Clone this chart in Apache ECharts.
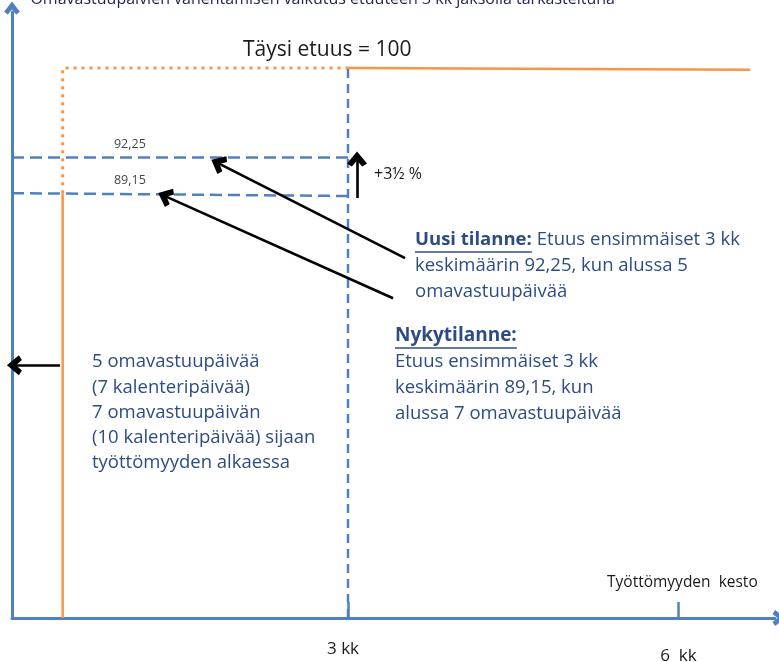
<!DOCTYPE html>
<html><head><meta charset="utf-8">
<script src="https://cdn.jsdelivr.net/npm/echarts@6/dist/echarts.min.js"></script>
<style>html,body{margin:0;padding:0;background:#fff}#c{width:779px;height:662px}</style>
</head><body><div id="c"></div>
<script>
// ---- data ----
const xTicks = [3, 6];
const xTickLabels = ['3 kk', '6  kk'];
const fullBenefit = 100;
const newAvg = 92.25;
const oldAvg = 89.15;
const waitEnd = 0.41;      // end of waiting period (months, schematic)
const periodEnd = 3;       // 3 kk
const lineEnd = 6.65;
const avgLabels = ['92,25', '89,15'];
const xMin = -0.05, xMax = 6.876, yMin = 52.3, yMax = 104.86;

const FONT = '"Open Sans"';
const TXT = '#2d4c86';
const BLUE = '#4f81bd';
const ORANGE = '#f79646';
const CHEVRON = 'path://M5,0 L10,6.5 L7.6,8.2 L5,5 L2.4,8.2 L0,6.5 Z';

function tw(text, font) {
  const c = document.createElement('canvas').getContext('2d');
  c.font = font; return c.measureText(text).width;
}

const chart = echarts.init(document.getElementById('c'), null, {renderer: 'canvas'});

const arrowLine = (from, to) => ({
  type: 'line', data: [], silent: true,
  markLine: {
    silent: true, symbol: ['none', CHEVRON], symbolSize: [20, 15],
    label: {show: false},
    lineStyle: {color: '#000', width: 2.6, type: 'solid'},
    itemStyle: {color: '#000'},
    data: [[{coord: from}, {coord: to}]]
  }
});

const option = {
  animation: false,
  grid: {left: 12, right: 4, top: 12, bottom: 44, outerBoundsMode: 'none', containLabel: false},
  xAxis: {
    type: 'value', min: xMin, max: xMax,
    axisLine: {onZero: false, symbol: ['none', CHEVRON], symbolSize: [20, 13], symbolOffset: [0, 4],
      lineStyle: {color: BLUE, width: 3}},
    axisTick: {show: true, inside: true, length: 16, customValues: xTicks, lineStyle: {color: BLUE, width: 2.5}},
    axisLabel: {customValues: xTicks, margin: 23, fontFamily: FONT, fontSize: 17, color: '#1a1a1a',
      formatter: v => { const i = xTicks.indexOf(v); return i === 0 ? '{a|' + xTickLabels[i] + '}' : '{b|' + xTickLabels[i] + '}'; },
      rich: {a: {fontFamily: FONT, fontSize: 17, color: '#1a1a1a', padding: [0, 10, 0, 0]},
             b: {fontFamily: FONT, fontSize: 17, color: '#1a1a1a', padding: [7, 0, 0, 0]}}},
    splitLine: {show: false}
  },
  yAxis: {
    type: 'value', min: yMin, max: yMax,
    axisLine: {show: true, onZero: false, symbol: ['none', CHEVRON], symbolSize: [20, 13], symbolOffset: [0, 4],
      lineStyle: {color: BLUE, width: 3}},
    axisTick: {show: false}, axisLabel: {show: false}, splitLine: {show: false}
  },
  series: [
    {type: 'line', symbol: 'none', lineStyle: {color: ORANGE, width: 2.5},
     data: [[waitEnd, yMin], [waitEnd, oldAvg]]},
    {type: 'line', symbol: 'none', lineStyle: {color: ORANGE, width: 3, type: [3, 5]},
     data: [[waitEnd, oldAvg], [waitEnd, fullBenefit], [periodEnd, fullBenefit]]},
    {type: 'line', symbol: 'none', lineStyle: {color: ORANGE, width: 2.5},
     data: [[periodEnd, fullBenefit], [lineEnd, 99.85]]},
    {type: 'line', symbol: 'none', lineStyle: {color: BLUE, width: 2.5, type: [9, 6]},
     data: [[periodEnd, yMin], [periodEnd, fullBenefit]]},
    {type: 'line', symbol: 'none', lineStyle: {color: BLUE, width: 2.5, type: [12, 6]},
     data: [[xMin, newAvg], [periodEnd, newAvg]]},
    {type: 'line', symbol: 'none', lineStyle: {color: BLUE, width: 2.5, type: [12, 6]},
     data: [[xMin, oldAvg], [periodEnd, oldAvg - 0.25]]},
    {type: 'scatter', symbolSize: 0, silent: true,
     label: {show: true, position: 'top', distance: 6, fontFamily: FONT, fontSize: 12.5, color: '#111',
       formatter: p => avgLabels[p.dataIndex]},
     data: [[1.02, newAvg], [1.02, oldAvg]]},
    arrowLine([3.518, 83.51], [1.82, 91.75]),
    arrowLine([3.409, 80.03], [1.339, 88.89]),
    arrowLine([3.082, 88.72], [3.082, 92.1]),
    arrowLine([0.386, 74.22], [-0.028, 74.22])
  ],
  graphic: []
};

// text annotations
const g = [];
const addText = (x, y, text, size, fill, opts = {}) => g.push({type: 'text', x, y, silent: true,
  style: {text, fill, font: (opts.bold ? 'bold ' : '') + size + 'px ' + FONT,
    align: opts.align || 'left', verticalAlign: 'middle'}});
const addUnder = (x, y, text, size) => {
  const w = tw(text, 'bold ' + size + 'px ' + FONT);
  g.push({type: 'line', silent: true, shape: {x1: x, y1: y, x2: x + w, y2: y}, style: {stroke: TXT, lineWidth: 1.3}});
  return w;
};

addText(615, -1, 'Omavastuupäivien vähentämisen vaikutus etuuteen 3 kk jaksolla tarkasteltuna', 16, '#1f2350', {align: 'right'});
addText(243, 50, 'Täysi etuus = 100', 21, '#1a1a1a');
addText(374, 174, '+3½ %', 16, '#1a1a1a');
addText(607, 583, 'Työttömyyden  kesto', 15.5, '#1a1a1a');

// Uusi tilanne
const s = 18.5;
addText(415, 240, 'Uusi tilanne:', s, TXT, {bold: true});
const w1 = addUnder(415, 252, 'Uusi tilanne:', s);
addText(415 + w1 + 5, 240, 'Etuus ensimmäiset 3 kk', s, TXT);
addText(415, 266, 'keskimäärin 92,25, kun alussa 5', s, TXT);
addText(415, 292, 'omavastuupäivää', s, TXT);

// Nykytilanne
addText(395, 336, 'Nykytilanne:', s + 0.5, TXT, {bold: true});
addUnder(395, 348, 'Nykytilanne:', s + 0.5);
addText(395, 362, 'Etuus ensimmäiset 3 kk', s, TXT);
addText(395, 388, 'keskimäärin 89,15, kun', s, TXT);
addText(395, 414, 'alussa 7 omavastuupäivää', s, TXT);

// left block
const leftLines = ['5 omavastuupäivää', '(7 kalenteripäivää)', '7 omavastuupäivän', '(10 kalenteripäivää) sijaan', 'työttömyyden alkaessa'];
leftLines.forEach((t, i) => addText(92, 362 + i * 25.3, t, s, TXT));

option.graphic = g;
chart.setOption(option);
</script></body></html>
